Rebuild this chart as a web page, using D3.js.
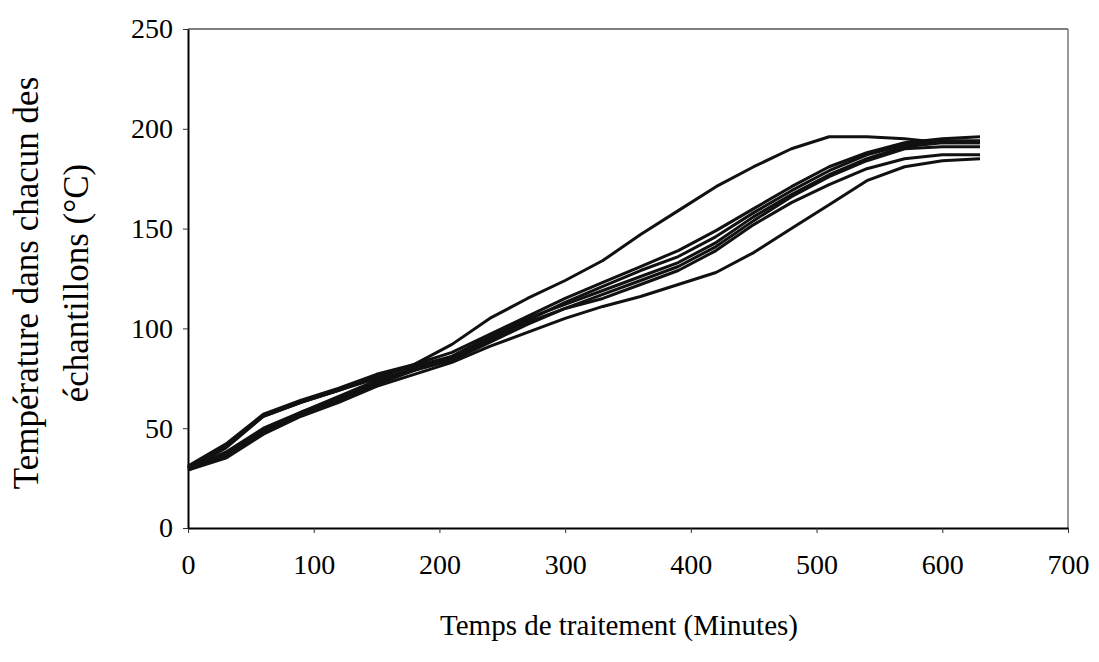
<!DOCTYPE html>
<html lang="fr">
<head>
<meta charset="UTF-8">
<title>Température des échantillons</title>
<style>
  body { margin: 0; background: #fff; }
  text { font-family: "Liberation Serif", "Times New Roman", serif; fill: #000; }
  .tick line { stroke: #333; stroke-width: 1px; }
  .curve { fill: none; stroke: #111; stroke-width: 3px; stroke-linejoin: round; }
</style>
</head>
<body>
<svg width="1099" height="662"></svg>
<script src="https://d3js.org/d3.v7.min.js"></script>
<script>
const width = 1099, height = 662;
const margin = { top: 29, right: 31, bottom: 134, left: 188 };

// temps (minutes), relevés toutes les 30 minutes
const minutes = [0, 30, 60, 90, 120, 150, 180, 210, 240, 270, 300, 330, 360, 390, 420, 450, 480, 510, 540, 570, 600, 630];

// température (°C) de chaque échantillon
const ech1 = [30, 40, 56, 63, 69, 75, 82, 92, 105, 115, 124, 134, 147, 159, 171, 181, 190, 196, 196, 195, 193, 193];
const ech2 = [31, 42, 57, 64, 70, 77, 82, 88, 97, 106, 115, 123, 131, 139, 149, 160, 171, 181, 188, 193, 195, 196];
const ech3 = [30, 41, 56, 63, 69, 76, 81, 86, 95, 104, 113, 121, 129, 136, 146, 158, 169, 179, 187, 192, 194, 194];
const ech4 = [30, 38, 50, 58, 66, 74, 80, 86, 96, 105, 112, 119, 126, 133, 143, 156, 167, 177, 185, 191, 193, 193];
const ech5 = [29, 37, 49, 58, 65, 73, 79, 84, 93, 102, 110, 117, 124, 131, 141, 154, 166, 176, 184, 190, 191, 191];
const ech6 = [30, 36, 48, 57, 64, 72, 79, 85, 94, 103, 110, 115, 122, 129, 139, 152, 163, 172, 180, 185, 187, 187];
const ech7 = [29, 35, 47, 56, 63, 71, 77, 83, 91, 98, 105, 111, 116, 122, 128, 138, 150, 162, 174, 181, 184, 185];

const series = [ech1, ech2, ech3, ech4, ech5, ech6, ech7];

const xTicks = [0, 100, 200, 300, 400, 500, 600, 700];
const yTicks = [0, 50, 100, 150, 200, 250];

const svg = d3.select("svg");
const iw = width - margin.left - margin.right;
const ih = height - margin.top - margin.bottom;

const x = d3.scaleLinear().domain([0, 700]).range([0, iw]);
const y = d3.scaleLinear().domain([0, 250]).range([ih, 0]);

const g = svg.append("g").attr("transform", `translate(${margin.left},${margin.top})`);

// cadre (haut et droite en gris)
g.append("line").attr("x1", 0).attr("x2", iw).attr("y1", 0).attr("y2", 0)
  .attr("stroke", "#555").attr("stroke-width", 1.5);
g.append("line").attr("x1", iw).attr("x2", iw).attr("y1", 0).attr("y2", ih)
  .attr("stroke", "#777").attr("stroke-width", 1.5);

const xAxis = g.append("g")
  .attr("transform", `translate(0,${ih})`)
  .call(d3.axisBottom(x).tickValues(xTicks).tickSize(5).tickSizeOuter(0).tickPadding(21));
const yAxis = g.append("g")
  .call(d3.axisLeft(y).tickValues(yTicks).tickSize(5).tickSizeOuter(0).tickPadding(10));

[xAxis, yAxis].forEach(a => {
  a.select(".domain").attr("stroke", "#000").attr("stroke-width", 2);
  a.selectAll("text").style("font-size", "28px").style("font-family", "Liberation Serif, serif");
});

const line = d3.line()
  .x((d, i) => x(minutes[i]))
  .y(d => y(d));

g.selectAll(".curve")
  .data(series)
  .enter().append("path")
  .attr("class", "curve")
  .attr("d", line);

// titres des axes
svg.append("text")
  .attr("x", 619).attr("y", 635)
  .attr("text-anchor", "middle")
  .style("font-size", "29px")
  .text("Temps de traitement (Minutes)");

const yt = svg.append("text")
  .attr("transform", "translate(0,283) rotate(-90)")
  .attr("text-anchor", "middle")
  .style("font-size", "35px");
yt.append("tspan").attr("x", 0).attr("y", 38).text("Température dans chacun des");
yt.append("tspan").attr("x", 0).attr("y", 88).text("échantillons (°C)");
</script>
</body>
</html>
